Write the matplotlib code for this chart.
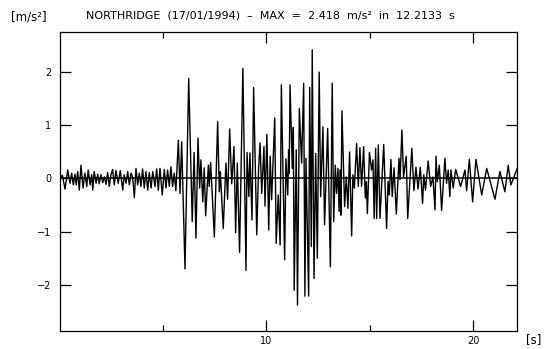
import matplotlib
matplotlib.use("Agg")
import matplotlib.pyplot as plt
from matplotlib.ticker import FixedLocator

time_s = [0.00, 0.13, 0.26, 0.39, 0.50, 0.58, 0.66, 0.74, 0.80, 0.87, 0.95, 1.03, 1.13, 1.22, 1.31, 1.38,
          1.47, 1.55, 1.60, 1.67, 1.76, 1.84, 1.91, 2.00, 2.08, 2.16, 2.24, 2.32, 2.40, 2.48, 2.56, 2.64,
          2.72, 2.83, 2.93, 3.05, 3.12, 3.21, 3.29, 3.37, 3.45, 3.53, 3.61, 3.69, 3.77, 3.85, 3.93, 4.01,
          4.09, 4.17, 4.26, 4.33, 4.42, 4.50, 4.61, 4.69, 4.77, 4.85, 4.96, 5.06, 5.14, 5.22, 5.30, 5.38,
          5.46, 5.54, 5.62, 5.74, 5.82, 5.90, 6.06, 6.24, 6.41, 6.50, 6.59, 6.69, 6.77, 6.83, 6.92, 6.99,
          7.06, 7.19, 7.23, 7.30, 7.48, 7.64, 7.72, 7.77, 7.91, 8.04, 8.12, 8.22, 8.32, 8.43, 8.51, 8.59,
          8.70, 8.86, 9.01, 9.06, 9.15, 9.20, 9.30, 9.38, 9.53, 9.62, 9.69, 9.77, 9.88, 9.93, 10.02, 10.11,
          10.18, 10.25, 10.40, 10.47, 10.57, 10.66, 10.72, 10.88, 10.94, 11.03, 11.07, 11.10, 11.14, 11.25,
          11.30, 11.34, 11.44, 11.50, 11.59, 11.70, 11.80, 11.86, 11.91, 12.04, 12.09, 12.17, 12.2133, 12.30,
          12.38, 12.46, 12.55, 12.62, 12.73, 12.81, 12.96, 13.09, 13.18, 13.25, 13.33, 13.39, 13.46, 13.51,
          13.56, 13.60, 13.65, 13.78, 13.86, 13.94, 14.02, 14.12, 14.18, 14.25, 14.36, 14.44, 14.52, 14.60,
          14.70, 14.78, 14.83, 14.88, 14.98, 15.08, 15.15, 15.21, 15.28, 15.33, 15.41, 15.49, 15.67, 15.81,
          15.88, 15.94, 16.02, 16.08, 16.17, 16.28, 16.41, 16.46, 16.55, 16.63, 16.76, 16.83, 17.03, 17.13,
          17.23, 17.33, 17.44, 17.55, 17.61, 17.69, 17.82, 17.94, 18.05, 18.15, 18.20, 18.26, 18.36, 18.47,
          18.63, 18.71, 18.79, 18.87, 18.92, 19.03, 19.15, 19.39, 19.60, 19.68, 19.81, 19.97, 20.13, 20.41,
          20.65, 21.05, 21.29, 21.53, 21.69, 21.82, 22.13]

accel = [0.00, 0.06, -0.20, 0.16, -0.09, 0.10, -0.12, 0.08, -0.12, 0.13, -0.22, 0.25, -0.18, 0.10, -0.15, 0.16,
         -0.12, 0.07, -0.22, 0.13, -0.09, 0.08, -0.10, 0.07, -0.08, 0.03, -0.11, 0.11, -0.15, 0.07, 0.17, -0.12,
         0.15, -0.09, 0.15, -0.22, 0.07, -0.09, 0.13, -0.12, 0.10, 0.02, -0.36, 0.19, -0.12, 0.10, -0.15, 0.18,
         -0.18, 0.13, -0.22, 0.11, -0.18, 0.13, -0.15, 0.18, -0.22, 0.19, -0.31, 0.17, -0.18, 0.16, -0.15, 0.22,
         -0.15, 0.10, -0.23, 0.72, -0.28, 0.69, -1.70, 1.88, -0.81, 0.49, -1.12, 0.76, -0.18, 0.35, -0.44, 0.20,
         -0.70, 0.25, -0.15, 0.30, -1.10, 1.07, -0.25, 0.13, -0.94, 0.29, -0.39, 0.93, -0.10, 0.60, -1.02, 0.29,
         -1.39, 2.07, -1.73, 0.49, -0.34, 0.48, -0.78, 1.71, -1.06, 0.19, 0.67, -0.28, 0.60, -0.52, 0.83, -0.97,
         0.42, -0.40, 1.14, -1.22, -0.31, -1.25, 1.76, -1.53, 0.37, -0.31, 0.54, 0.10, 1.76, 0.19,
         0.96, -2.10, 0.54, -2.38, 1.32, 0.29, 1.79, -2.21, 0.38, -2.21, 1.71, -1.28, 2.418, -1.88,
         0.47, -1.50, 2.00, -0.34, 0.97, -0.87, 0.94, -1.66, 1.79, -0.81, 0.25, -0.28, 0.19, -0.62,
         0.16, -0.69, 1.27, -0.53, 0.03, -0.56, 0.50, -1.08, 0.07, -0.18, 0.66, -0.15, 0.58, -0.15,
         0.60, -0.37, -0.06, -0.66, 0.49, 0.16, 0.35, -0.75, 0.57, -0.75, 0.63, -0.75, 0.64, -0.94,
         -0.05, -0.31, 0.36, -0.34, 0.20, -0.67, 0.38, -0.02, 0.91, 0.03, 0.42, -0.75, 0.57, -0.23,
         0.21, -0.20, 0.21, -0.47, 0.07, -0.22, 0.33, -0.15, 0.03, -0.59, 0.42, -0.06, 0.25, -0.60,
         0.38, -0.09, 0.16, -0.34, 0.16, -0.18, 0.17, -0.15, 0.16, -0.23, 0.36, -0.44, 0.36, -0.31,
         0.19, -0.39, 0.13, -0.25, 0.25, -0.12, 0.19]

x_major = [10, 20]
x_minor = [5, 15]
y_major = [-2, -1, 0, 1, 2]
title = "NORTHRIDGE  (17/01/1994)  \u2013  MAX  =  2.418  m/s\u00b2  in  12.2133  s"

plt.rcParams['font.family'] = ['DejaVu Sans']
fig = plt.figure(figsize=(5.44, 3.49), dpi=100)
ax = fig.add_axes([0.1097, 0.0516, 0.8412, 0.8556])
ax.plot(time_s, accel, color='black', lw=1.0)
ax.axhline(0, color='black', lw=1.1)
ax.set_xlim(0, 22.13)
ax.set_ylim(-2.866, 2.746)

ax.xaxis.set_major_locator(FixedLocator(x_major))
ax.xaxis.set_minor_locator(FixedLocator(x_minor))
ax.yaxis.set_major_locator(FixedLocator(y_major))
ax.tick_params(which='major', direction='in', length=8, width=0.9, top=True, right=True,
               labelsize=7)
ax.tick_params(axis='y', which='major', pad=6)
ax.tick_params(axis='x', which='major', pad=3.5)
ax.tick_params(which='minor', direction='in', length=4, width=0.9, top=True, right=True)
ax.set_yticklabels(['\u22122', '\u22121', '0', '1', '2'])
for s in ax.spines.values():
    s.set_linewidth(0.9)

fig.text(0.497, 0.957, title, ha='center', va='center', fontsize=8)
fig.text(0.053, 0.951, "[m/s\u00b2]", ha='center', va='center', fontsize=8.5)
fig.text(0.981, 0.027, "[s]", ha='center', va='center', fontsize=8.5)

fig.savefig("out.png", dpi=100)
